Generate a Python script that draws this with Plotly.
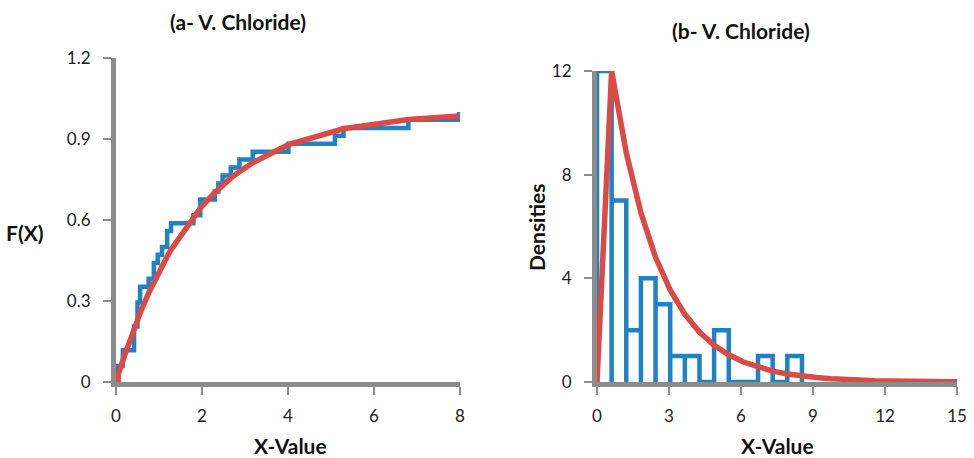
import plotly.graph_objects as go

# ---------------- data ----------------
# (a) empirical CDF: step positions and cumulative fractions
ecdf_x = [0.05, 0.05, 0.16, 0.42, 0.50, 0.56, 0.76, 0.88, 0.97, 1.07, 1.19, 1.28,
          1.80, 1.96, 2.30, 2.38, 2.48, 2.67, 2.87, 3.18, 4.01, 5.09, 5.29, 6.80, 7.98]
ecdf_f = [0.0, 0.059, 0.118, 0.206, 0.294, 0.353, 0.382, 0.441, 0.471, 0.500, 0.559, 0.588,
          0.618, 0.676, 0.706, 0.735, 0.765, 0.794, 0.824, 0.853, 0.882, 0.912, 0.941, 0.971, 1.0]
# fitted CDF
cdf_x = [0.05, 0.05, 0.16, 0.42, 0.50, 0.56, 0.76, 0.88, 0.97, 1.07, 1.19, 1.28,
         1.80, 1.96, 2.30, 2.38, 2.48, 2.67, 2.87, 3.18, 4.01, 5.09, 5.29, 6.80, 7.98]
cdf_f = [0.0, 0.026, 0.081, 0.198, 0.231, 0.255, 0.330, 0.371, 0.400, 0.431, 0.465, 0.490,
         0.612, 0.644, 0.702, 0.714, 0.729, 0.755, 0.779, 0.812, 0.879, 0.931, 0.938, 0.972, 0.985]

# (b) histogram
hist_edges = [0.0, 0.61, 1.22, 1.83, 2.44, 3.05, 3.66, 4.27, 4.88, 5.49, 6.10, 6.71, 7.32, 7.93, 8.54]
hist_counts = [12, 7, 2, 4, 3, 1, 1, 0, 2, 0, 0, 1, 0, 1]
# fitted density
dens_x = [0.0, 0.61, 1.22, 1.83, 2.44, 3.05, 3.66, 4.27, 4.88, 5.49, 6.10, 6.71, 7.32, 7.93,
          8.54, 9.15, 9.76, 10.37, 10.98, 11.59, 12.20, 12.81, 13.42, 14.03, 14.64, 15.0]
dens_y = [0.0, 12.0, 8.84, 6.53, 4.81, 3.55, 2.61, 1.93, 1.42, 1.05, 0.77, 0.57, 0.42, 0.31,
          0.23, 0.17, 0.13, 0.09, 0.07, 0.05, 0.04, 0.03, 0.02, 0.015, 0.011, 0.009]

left_xticks = [0, 2, 4, 6, 8]
left_yticks = [0, 0.3, 0.6, 0.9, 1.2]
left_ytext = ["0", "0.3", "0.6", "0.9", "1.2"]
right_xticks = [0, 3, 6, 9, 12, 15]
right_yticks = [0, 4, 8, 12]

BLUE = "#1F82C4"
RED = "#DB4A45"
GRAY = "#8C8C8C"
FONT = "Lato"

# histogram outline path
hx, hy = [0.0], [0.0]
for i, c in enumerate(hist_counts):
    l, r = hist_edges[i], hist_edges[i + 1]
    hx += [l, l, r, r]
    hy += [0, c, c, 0]

fig = go.Figure()
fig.add_trace(go.Scatter(x=ecdf_x, y=ecdf_f, mode="lines", line=dict(color=BLUE, width=4.5, shape="hv"),
                         xaxis="x", yaxis="y", showlegend=False))
fig.add_trace(go.Scatter(x=cdf_x, y=cdf_f, mode="lines", line=dict(color=RED, width=5.5),
                         xaxis="x", yaxis="y", showlegend=False))
fig.add_trace(go.Scatter(x=hx, y=hy, mode="lines", line=dict(color=BLUE, width=4.5),
                         xaxis="x2", yaxis="y2", showlegend=False))
fig.add_trace(go.Scatter(x=dens_x, y=dens_y, mode="lines", line=dict(color=RED, width=5.5),
                         xaxis="x2", yaxis="y2", showlegend=False))

W, H = 974, 458


def px(x):
    return x / W


def py(y):
    return (H - y) / H


axis_common = dict(showgrid=False, zeroline=False, showline=True, linecolor=GRAY, linewidth=5,
                   ticks="outside", ticklen=8, tickwidth=2, tickcolor=GRAY, layer="below traces",
                   tickfont=dict(family=FONT, size=17, color="#222222"), fixedrange=True)

fig.update_layout(
    width=W, height=H, margin=dict(l=0, r=0, t=0, b=0, pad=0, autoexpand=False),
    showlegend=False, hovermode=False,
    paper_bgcolor="white", plot_bgcolor="white",
    xaxis=dict(axis_common, domain=[px(116), px(460)], range=[0, 8], tickvals=left_xticks,
               anchor="y", ticklabelstandoff=7),
    yaxis=dict(axis_common, domain=[py(382), py(58)], range=[0, 1.2], tickvals=left_yticks,
               ticktext=left_ytext, anchor="x", ticklabelstandoff=9),
    xaxis2=dict(axis_common, domain=[px(597), px(957)], range=[0, 15], tickvals=right_xticks,
                anchor="y2", ticklabelstandoff=7),
    yaxis2=dict(axis_common, domain=[py(382), py(71)], range=[0, 12], tickvals=right_yticks,
                anchor="x2", ticklabelstandoff=9),
)

anns = [
    ("<b>(a- V. Chloride)</b>", 238, 21, 0, 21),
    ("<b>(b- V. Chloride)</b>", 741, 31, 0, 21),
    ("<b>F(X)</b>", 25, 232, 0, 21),
    ("<b>Densities</b>", 536, 228, -90, 21),
    ("<b>X-Value</b>", 290, 445, 0, 21),
    ("<b>X-Value</b>", 777, 445, 0, 21),
]
for text, x, y, ang, size in anns:
    fig.add_annotation(text=text, x=px(x), y=py(y), xref="paper", yref="paper", showarrow=False,
                       xanchor="center", yanchor="middle", textangle=ang,
                       font=dict(family=FONT, size=size, color="#111111"))

fig.write_html(
    "out.html",
    config={"displayModeBar": False},
    post_script="document.body.style.margin='0';document.body.style.overflow='hidden';",
)
